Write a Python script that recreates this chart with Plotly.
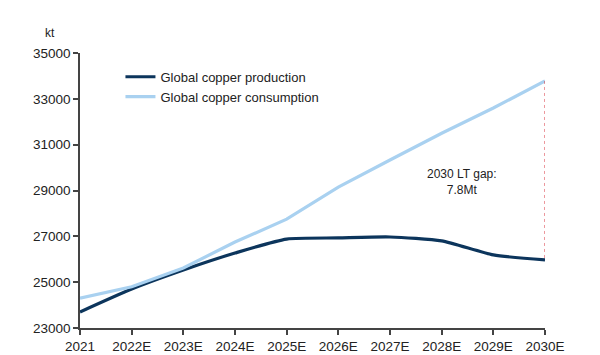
import plotly.graph_objects as go

years = ["2021", "2022E", "2023E", "2024E", "2025E", "2026E", "2027E", "2028E", "2029E", "2030E"]
production = [23700, 24700, 25530, 26270, 26880, 26930, 26970, 26800, 26190, 25970]
consumption = [24300, 24800, 25620, 26750, 27750, 29150, 30330, 31500, 32600, 33780]
yticks = [23000, 25000, 27000, 29000, 31000, 33000, 35000]

x = list(range(len(years)))
font = "Liberation Sans, Arial, sans-serif"

fig = go.Figure()
fig.add_trace(go.Scatter(x=x, y=production, mode="lines", name="Global copper production",
                         line=dict(color="#0c355c", width=3.2, smoothing=0.6), line_shape="spline"))
fig.add_trace(go.Scatter(x=x, y=consumption, mode="lines", name="Global copper consumption",
                         line=dict(color="#a9d1f0", width=3.2)))

# gap line
fig.add_trace(go.Scatter(x=[x[-1], x[-1]], y=[consumption[-1], production[-1]], mode="lines",
                         line=dict(color="#d9303a", width=1, dash="dot"), showlegend=False,
                         hoverinfo="skip"))

fig.add_annotation(x=7.4, y=29370, text="2030 LT gap:<br>7.8Mt", showarrow=False,
                   font=dict(family=font, size=12, color="#222"), align="center")
fig.add_annotation(x=0, y=1, xref="paper", yref="paper", text="kt", showarrow=False,
                   xshift=-37, yshift=29, font=dict(family=font, size=12, color="#222"))

fig.update_layout(
    width=600, height=355,
    margin=dict(l=80, r=55, t=53, b=27),
    paper_bgcolor="white", plot_bgcolor="white",
    font=dict(family=font, size=13.5, color="#222"),
    showlegend=True,
    legend=dict(x=0.087, y=0.968, xanchor="left", yanchor="top", bgcolor="rgba(0,0,0,0)",
                font=dict(family=font, size=13, color="#222"), tracegroupgap=0, itemwidth=30),
    xaxis=dict(range=[0, 9], tickvals=x, ticktext=years, showgrid=False, zeroline=False,
               showline=True, linecolor="#444", linewidth=1.5, ticks="outside", ticklen=5,
               tickcolor="#444", tickwidth=1.5, fixedrange=True, automargin=False),
    yaxis=dict(range=[23000, 35000], tickvals=yticks, ticktext=[str(v) for v in yticks],
               showgrid=False, zeroline=False, showline=True, linecolor="#444", linewidth=1.5,
               ticks="outside", ticklen=5, tickcolor="#444", tickwidth=1.5, automargin=False),
)

fig.write_html("out.html", config={"displayModeBar": False},
               post_script="document.body.style.margin='0';")
